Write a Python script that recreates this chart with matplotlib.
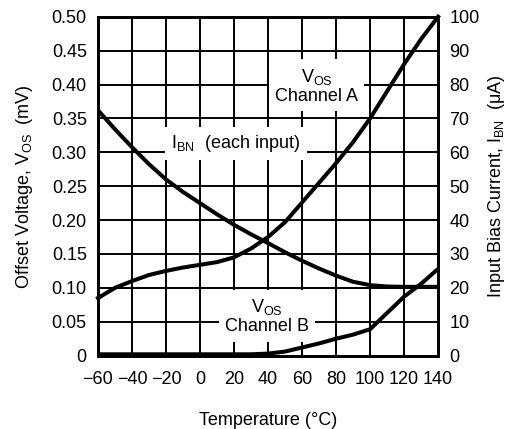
import numpy as np
import matplotlib
matplotlib.use("Agg")
import matplotlib.pyplot as plt

plt.rcParams['font.family'] = ['Liberation Sans', 'DejaVu Sans']
plt.rcParams['mathtext.fontset'] = 'custom'
plt.rcParams['mathtext.rm'] = 'Liberation Sans'
plt.rcParams['mathtext.it'] = 'Liberation Sans:italic'
plt.rcParams['axes.unicode_minus'] = True

# ---------------- data ----------------
temp_c = [-60, -50, -40, -30, -20, -10, 0, 10, 20, 30, 40,
          50, 60, 70, 80, 90, 100, 110, 120, 130, 140]

# offset voltage, channel A (mV)
vos_a = [0.085, 0.100, 0.110, 0.119, 0.125, 0.130, 0.134, 0.138, 0.145, 0.158, 0.175,
         0.197, 0.226, 0.255, 0.284, 0.315, 0.350, 0.390, 0.430, 0.467, 0.500]

# offset voltage, channel B (mV)
vos_b = [0.002, 0.002, 0.002, 0.002, 0.002, 0.002, 0.002, 0.002, 0.002, 0.002, 0.003,
         0.006, 0.012, 0.018, 0.025, 0.031, 0.039, 0.063, 0.087, 0.106, 0.128]

# input bias current (uA)
ibn = [72.4, 66.8, 61.5, 56.5, 52.0, 48.3, 45.0, 41.7, 38.6, 35.8, 33.2,
       30.5, 28.0, 25.7, 23.6, 21.8, 20.8, 20.4, 20.3, 20.3, 20.3]

x_ticks = [-60, -40, -20, 0, 20, 40, 60, 80, 100, 120, 140]
vos_ticks = [0, 0.05, 0.10, 0.15, 0.20, 0.25, 0.30, 0.35, 0.40, 0.45, 0.50]
vos_ticklabels = ['0', '0.05', '0.10', '0.15', '0.20', '0.25', '0.30', '0.35', '0.40', '0.45', '0.50']
ibn_ticks = [0, 10, 20, 30, 40, 50, 60, 70, 80, 90, 100]

# ---------------- figure ----------------
fs = 13
fig = plt.figure(figsize=(5.13, 4.29), dpi=100)
fig.subplots_adjust(left=0.191, right=0.854, bottom=0.171, top=0.961)
ax = fig.add_subplot(111)
ax2 = ax.twinx()

ax.set_xlim(-60, 140)
ax.set_ylim(0, 0.5)
ax2.set_ylim(0, 100)

ax.set_xticks(x_ticks)
ax.set_xticklabels([str(t).replace('-', '\u2212') for t in x_ticks], fontsize=fs)
ax.set_yticks(vos_ticks)
ax.set_yticklabels(vos_ticklabels, fontsize=fs)
ax2.set_yticks(ibn_ticks)
ax2.set_yticklabels([str(t) for t in ibn_ticks], fontsize=fs)

ax.tick_params(axis='both', length=0)
ax.tick_params(axis='y', pad=8)
ax.tick_params(axis='x', pad=11)
ax2.tick_params(axis='y', length=0, pad=8)

ax.set_axisbelow(True)
ax.grid(True, color='black', linewidth=1.4)

for a in (ax, ax2):
    for s in a.spines.values():
        s.set_linewidth(2.0)
        s.set_color('black')

ax.plot(temp_c, vos_a, color='black', lw=2.9, zorder=5, clip_on=False,
        solid_joinstyle='round')
ax.plot(temp_c, vos_b, color='black', lw=2.9, zorder=5, solid_joinstyle='round')
ax2.plot(temp_c, ibn, color='black', lw=2.9, zorder=5, solid_joinstyle='round')

box = dict(boxstyle='square,pad=0.35', facecolor='white', edgecolor='none')
ax.text(68.5, 0.398, 'V$_{\\mathrm{OS}}$\nChannel A', ha='center', va='center',
        multialignment='center', fontsize=fs, linespacing=1.1, bbox=box, zorder=3)
ax.text(21.2, 0.313, 'I$_{\\mathrm{BN}}$  (each input)', ha='center', va='center',
        fontsize=fs, bbox=box, zorder=3)
ax.text(39.4, 0.058, 'V$_{\\mathrm{OS}}$\nChannel B', ha='center', va='center',
        multialignment='center', fontsize=fs, linespacing=1.1, bbox=box, zorder=3)

ax.set_xlabel('Temperature (\u00b0C)', fontsize=fs, labelpad=17)
ax.set_ylabel('Offset Voltage, V$_{\\mathrm{OS}}$  (mV)', fontsize=fs, labelpad=12)
ax2.set_ylabel('Input Bias Current, I$_{\\mathrm{BN}}$  (\u03bcA)', fontsize=fs, labelpad=5)

fig.savefig('out.png', dpi=100)
